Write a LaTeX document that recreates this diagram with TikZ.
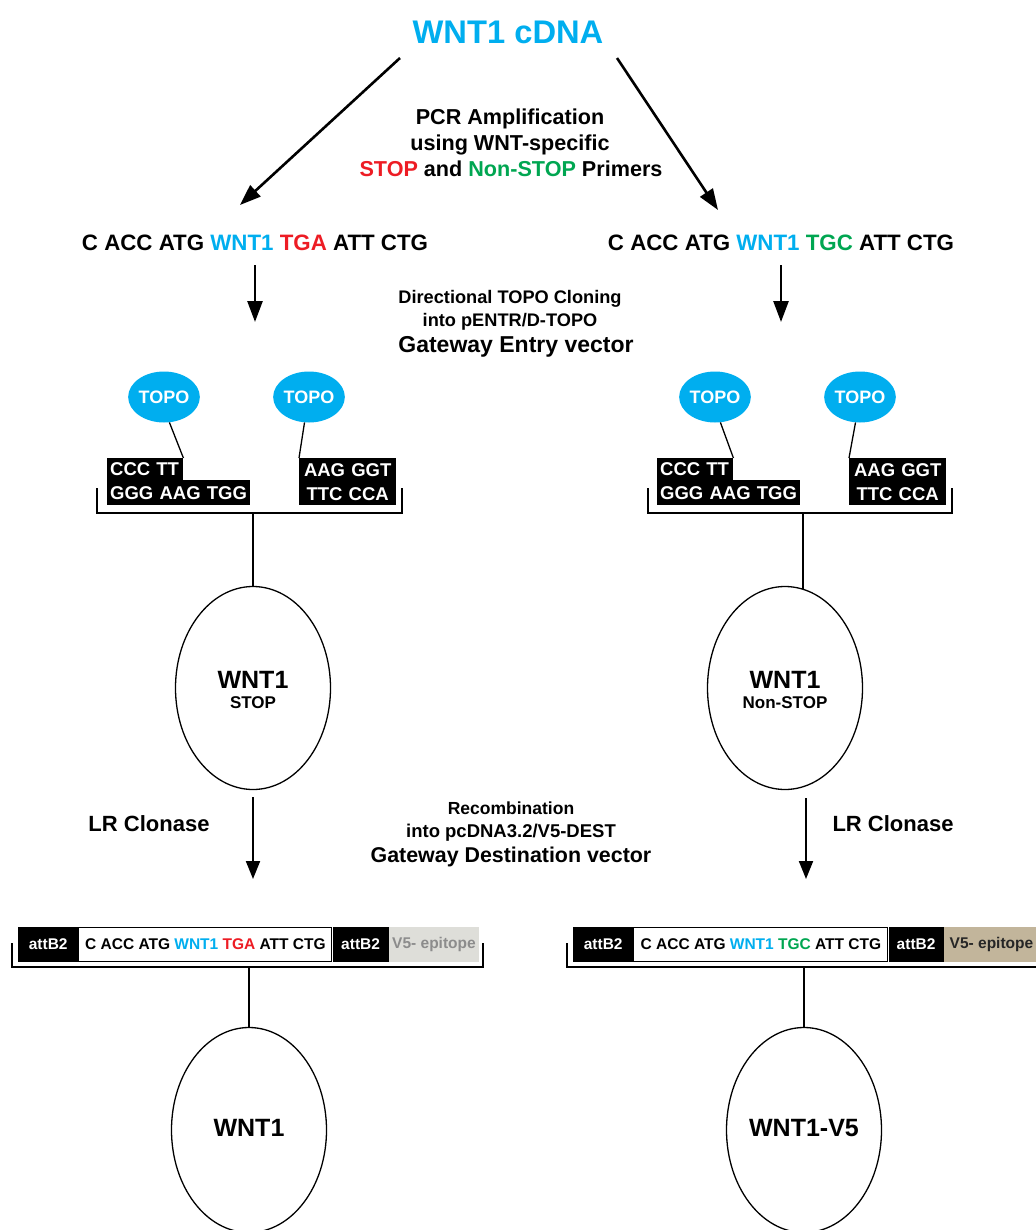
\documentclass[tikz,border=0pt]{standalone}
\usepackage{fontspec}
\setmainfont{Liberation Sans}
\usetikzlibrary{arrows.meta,positioning,shapes.geometric}
\definecolor{WntClr}{RGB}{0,174,239}
\definecolor{StopClr}{RGB}{237,28,36}
\definecolor{NonStopClr}{RGB}{0,166,81}
\definecolor{TagClr}{RGB}{194,181,155}
\definecolor{TagOffClr}{RGB}{222,222,217}
\definecolor{TagOffTxt}{RGB}{140,140,140}
\newcommand{\tsize}[2]{\fontsize{#1}{#2}\selectfont\bfseries}

\begin{document}
\begin{tikzpicture}[x=1pt,y=-1pt,
  txt/.style={inner sep=0pt,anchor=base},
  bigarrow/.style={line width=2.6pt,-{Triangle[length=21pt,width=15pt]}},
  lrarrow/.style={line width=2pt,-{Triangle[length=18pt,width=14pt]}},
  thinline/.style={line width=1.3pt},
  topo/.style={ellipse,fill=WntClr,text=white,inner sep=0pt,minimum width=68pt,minimum height=51pt,font=\tsize{18}{22}},
  seqblk/.style={fill=black,text=white,inner xsep=3pt,inner ysep=0pt,font=\tsize{18.5}{24}},
  plasmid/.style={draw,ellipse,line width=1.3pt,minimum width=155pt,minimum height=203pt,inner sep=0pt},
  barblk/.style={fill=black,text=white,inner sep=0pt,minimum height=35pt,font=\tsize{15.5}{19}},
  barseq/.style={fill=white,draw=black,line width=1pt,inner sep=0pt,minimum height=34pt,font=\tsize{15.5}{19}}]
\useasboundingbox (0,0) rectangle (1035,1230);

\node[txt,text=WntClr,font=\tsize{32.7}{38}] (cdna) at (508,44) {WNT1 cDNA};
\node[txt,font=\tsize{21.6}{26}] (pcr1) at (510,125) {PCR Amplification};
\node[txt,font=\tsize{21.6}{26}] (pcr2) at (510,151) {using WNT-specific};
\node[txt,font=\tsize{21.6}{26}] (pcr3) at (511,177) {\textcolor{StopClr}{STOP} and \textcolor{NonStopClr}{Non-STOP} Primers};

\coordinate (lfrom) at (400,58);
\coordinate (rfrom) at (617,58);
\coordinate (lto) at (240,205);
\coordinate (rto) at (718,210);
\draw[bigarrow] (lfrom) -- (lto);
\draw[bigarrow] (rfrom) -- (rto);

\node[txt,font=\tsize{22.3}{27}] (lseq) at (255,251) {C ACC ATG \textcolor{WntClr}{WNT1} \textcolor{StopClr}{TGA} ATT CTG};
\node[txt,font=\tsize{22.3}{27}] (rseq) at (781,251) {C ACC ATG \textcolor{WntClr}{WNT1} \textcolor{NonStopClr}{TGC} ATT CTG};
\coordinate (lgo) at (255,322);
\coordinate (rgo) at (781,322);
\draw[bigarrow] ([yshift=-14pt]lseq.south) -- (lgo);
\draw[bigarrow] ([yshift=-14pt]rseq.south) -- (rgo);

\node[txt,font=\tsize{18.2}{22}] (dir1) at (510,304) {Directional TOPO Cloning};
\node[txt,font=\tsize{18.2}{22}] (dir2) at (510,326) {into pENTR/D-TOPO};
\node[txt,font=\tsize{23}{27}] (dir3) at (516,352) {Gateway Entry vector};

\node[topo] (ltopo1) at (164,397) {TOPO};
\node[topo] (ltopo2) at (309,397) {TOPO};
\node[topo] (rtopo1) at (715,397) {TOPO};
\node[topo] (rtopo2) at (860,397) {TOPO};

\node[seqblk,anchor=north west,text width=70pt,align=left,minimum height=22pt] (lcc) at (107,458) {CCC TT};
\node[seqblk,anchor=north west,text width=137pt,align=left,minimum height=25pt] (lgg) at (107,480) {GGG AAG TGG};
\node[seqblk,anchor=north west,text width=91pt,align=center,minimum height=47pt] (laa) at (299,458) {AAG GGT\\TTC CCA};
\node[seqblk,anchor=north west,text width=70pt,align=left,minimum height=22pt] (rcc) at (657,458) {CCC TT};
\node[seqblk,anchor=north west,text width=137pt,align=left,minimum height=25pt] (rgg) at (657,480) {GGG AAG TGG};
\node[seqblk,anchor=north west,text width=91pt,align=center,minimum height=47pt] (raa) at (849,458) {AAG GGT\\TTC CCA};

\draw[thinline] (ltopo1.-78) -- (lcc.north east);
\draw[thinline] (ltopo2.-100) -- (laa.north west);
\draw[thinline] (rtopo1.-78) -- (rcc.north east);
\draw[thinline] (rtopo2.-100) -- (raa.north west);

\draw[thinline] (97,488) -- (97,513) -- (402,513) -- (402,488);
\draw[thinline] (648,488) -- (648,513) -- (952,513) -- (952,488);
\coordinate (lbr) at (253,513);
\coordinate (rbr) at (803,513);

\node[plasmid] (lcirc) at (253,688) {};
\node[plasmid] (rcirc) at (785,688) {};
\draw[thinline] (lbr) -- (lcirc.north);
\draw[thinline] (rbr) -- ([yshift=-3pt]rcirc.north -| rbr);
\node[txt,font=\tsize{25}{30}] (lname) at (253,688) {WNT1};
\node[txt,font=\tsize{17}{20}] (ltype) at (253,708) {STOP};
\node[txt,font=\tsize{25}{30}] (rname) at (785,688) {WNT1};
\node[txt,font=\tsize{17}{20}] (rtype) at (785,708) {Non-STOP};

\coordinate (llr) at (253,879);
\coordinate (rlr) at (806,879);
\draw[lrarrow] ([yshift=-7pt]lcirc.south) -- (llr);
\draw[lrarrow] ([yshift=-8pt]rcirc.south -| rlr) -- (rlr);
\node[txt,font=\tsize{22}{26}] (llrtxt) at (149,831) {LR Clonase};
\node[txt,font=\tsize{22}{26}] (rlrtxt) at (893,831) {LR Clonase};

\node[txt,font=\tsize{17.5}{21}] (rec1) at (511,814) {Recombination};
\node[txt,font=\tsize{18.5}{22}] (rec2) at (511,837) {into pcDNA3.2/V5-DEST};
\node[txt,font=\tsize{21.4}{26}] (rec3) at (511,862) {Gateway Destination vector};

\node[barblk,anchor=west,minimum width=60pt] (latt1) at (18,944.5) {attB2};
\node[barseq,minimum width=253pt,right=0pt of latt1] (lins) {C ACC ATG \textcolor{WntClr}{WNT1} \textcolor{StopClr}{TGA} ATT CTG};
\node[barblk,minimum width=56pt,right=0pt of lins] (latt2) {attB2};
\node[barblk,fill=TagOffClr,text=TagOffTxt,minimum width=90pt,right=0pt of latt2] (lv5) {V5- epitope};

\node[barblk,anchor=west,minimum width=60pt] (ratt1) at (573,944.5) {attB2};
\node[barseq,minimum width=254pt,right=0pt of ratt1] (rins) {C ACC ATG \textcolor{WntClr}{WNT1} \textcolor{NonStopClr}{TGC} ATT CTG};
\node[barblk,minimum width=55pt,right=0pt of rins] (ratt2) {attB2};
\node[barblk,fill=TagClr,text=black!85,minimum width=95pt,right=0pt of ratt2] (rv5) {V5- epitope};

\draw[thinline] (12,943) -- (12,967) -- (483,967) -- (483,943);
\draw[thinline] (567,943) -- (567,967) -- (1040,967);
\coordinate (lbb) at (249,967);
\coordinate (rbb) at (804,967);

\node[plasmid,minimum height=205pt] (lres) at (249,1130) {};
\node[plasmid,minimum height=205pt] (rres) at (804,1130) {};
\draw[thinline] (lbb) -- (lres.north);
\draw[thinline] (rbb) -- (rres.north);
\node[txt,font=\tsize{25}{30}] (lresname) at (249,1136) {WNT1};
\node[txt,font=\tsize{25}{30}] (rresname) at (804,1136) {WNT1-V5};

\end{tikzpicture}
\end{document}
